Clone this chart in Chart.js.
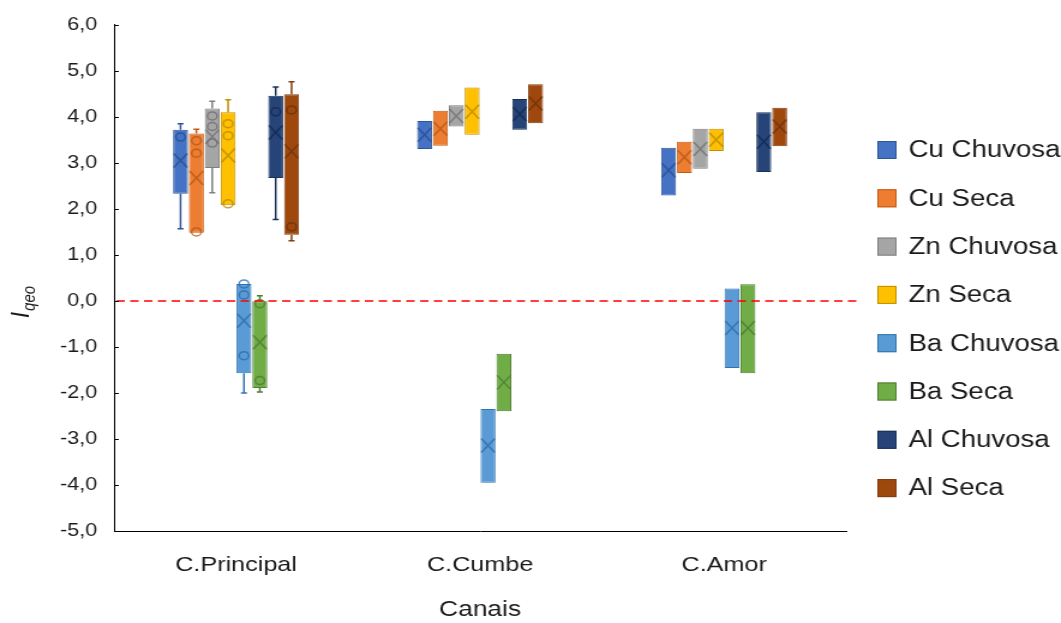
<!DOCTYPE html>
<html>
<head>
<meta charset="utf-8">
<script src="https://cdn.jsdelivr.net/npm/chart.js@4.4.1/dist/chart.umd.min.js"></script>
<style>
  html, body { margin: 0; padding: 0; background: #ffffff; overflow: hidden; }
  /* the figure is laid out narrow and widened horizontally */
  #wrap { width: 884px; height: 623px; transform: scaleX(1.2002); transform-origin: 0 0; }
</style>
</head>
<body>
<div id="wrap"><canvas id="chart" width="884" height="623"></canvas></div>
<script>
// Categories and series
const categories = ['C.Principal', 'C.Cumbe', 'C.Amor'];
const seriesNames = ['Cu Chuvosa', 'Cu Seca', 'Zn Chuvosa', 'Zn Seca',
                     'Ba Chuvosa', 'Ba Seca', 'Al Chuvosa', 'Al Seca'];

// Box limits (first and third quartile), one row per series, one column per canal
const boxLow = [
  [2.33, 3.30, 2.29],
  [1.48, 3.37, 2.78],
  [2.89, 3.79, 2.87],
  [2.08, 3.61, 3.26],
  [-1.57, -3.95, -1.46],
  [-1.89, -2.40, -1.57],
  [2.67, 3.72, 2.80],
  [1.44, 3.86, 3.36]
];
const boxHigh = [
  [3.72, 3.91, 3.33],
  [3.64, 4.13, 3.46],
  [4.18, 4.25, 3.74],
  [4.10, 4.64, 3.74],
  [0.37, -2.35, 0.27],
  [-0.01, -1.15, 0.36],
  [4.46, 4.39, 4.10],
  [4.49, 4.71, 4.20]
];

// Whisker ends (minimum and maximum)
const whiskerLow = [
  [1.57, 3.30, 2.29],
  [1.48, 3.37, 2.78],
  [2.35, 3.79, 2.87],
  [2.08, 3.61, 3.26],
  [-2.00, -3.95, -1.46],
  [-1.98, -2.40, -1.57],
  [1.77, 3.72, 2.80],
  [1.31, 3.86, 3.36]
];
const whiskerHigh = [
  [3.85, 3.91, 3.33],
  [3.73, 4.13, 3.46],
  [4.34, 4.25, 3.74],
  [4.37, 4.64, 3.74],
  [0.37, -2.35, 0.27],
  [0.11, -1.15, 0.36],
  [4.65, 4.39, 4.10],
  [4.76, 4.71, 4.20]
];

// Mean values (X markers)
const means = [
  [3.05, 3.61, 2.84],
  [2.67, 3.74, 3.12],
  [3.57, 4.02, 3.30],
  [3.16, 4.11, 3.50],
  [-0.43, -3.14, -0.59],
  [-0.90, -1.77, -0.59],
  [3.66, 4.06, 3.46],
  [3.25, 4.29, 3.79]
];

// Individual values shown as circles
const innerPoints = [
  [[3.56], [], []],
  [[3.48, 3.21, 1.50], [], []],
  [[4.02, 3.79, 3.43], [], []],
  [[3.85, 3.59, 2.11], [], []],
  [[0.37, 0.13, -1.19], [], []],
  [[-0.06, -1.73], [], []],
  [[4.11], [], []],
  [[4.15, 1.61], [], []]
];

// Y tick labels
const yTicks = ['-5,0', '-4,0', '-3,0', '-2,0', '-1,0', '0,0', '1,0', '2,0', '3,0', '4,0', '5,0', '6,0'];

const fills = ['#4472C4', '#ED7D31', '#A5A5A5', '#FFC000', '#5B9BD5', '#70AD47', '#264478', '#9E480E'];
const edges = ['#2F5597', '#C55A11', '#7F7F7F', '#BF9000', '#2E75B6', '#507E32', '#1A3157', '#843C0C'];
const marks = ['rgba(40,75,140,0.75)', 'rgba(180,85,20,0.75)', 'rgba(110,110,110,0.75)', 'rgba(180,135,0,0.75)',
               'rgba(40,105,170,0.75)', 'rgba(75,120,45,0.75)', 'rgba(20,40,80,0.8)', 'rgba(110,50,10,0.8)'];

const FONT = '"Liberation Sans", Arial, Helvetica, sans-serif';
const TEXT = '#1a1a1a';

// Whiskers behind the boxes; means and points on top
const boxMarks = {
  id: 'boxMarks',
  beforeDatasetsDraw(chart) {
    const { ctx, scales: { y } } = chart;
    ctx.save();
    chart.data.datasets.forEach((ds, i) => {
      chart.getDatasetMeta(i).data.forEach((bar, j) => {
        const x = bar.x;
        const yB = y.getPixelForValue(boxLow[i][j]);
        const yT = y.getPixelForValue(boxHigh[i][j]);
        const yLo = y.getPixelForValue(whiskerLow[i][j]);
        const yHi = y.getPixelForValue(whiskerHigh[i][j]);
        ctx.strokeStyle = edges[i];
        ctx.lineWidth = 1.5;
        ctx.beginPath();
        if (yLo > yB + 0.5) {
          ctx.moveTo(x, yB); ctx.lineTo(x, yLo);
          ctx.moveTo(x - 2.5, yLo); ctx.lineTo(x + 2.5, yLo);
        }
        if (yHi < yT - 0.5) {
          ctx.moveTo(x, yT); ctx.lineTo(x, yHi);
          ctx.moveTo(x - 2.5, yHi); ctx.lineTo(x + 2.5, yHi);
        }
        ctx.stroke();
      });
    });
    ctx.restore();
  },
  afterDatasetsDraw(chart) {
    const { ctx, scales: { y } } = chart;
    ctx.save();
    chart.data.datasets.forEach((ds, i) => {
      chart.getDatasetMeta(i).data.forEach((bar, j) => {
        const x = bar.x;
        const hw = bar.width / 2 - 0.5;
        ctx.strokeStyle = marks[i];
        ctx.lineWidth = 1.5;
        // mean marker
        const ym = y.getPixelForValue(means[i][j]);
        ctx.beginPath();
        ctx.moveTo(x - hw, ym - 7); ctx.lineTo(x + hw, ym + 7);
        ctx.moveTo(x - hw, ym + 7); ctx.lineTo(x + hw, ym - 7);
        ctx.stroke();
        // individual values
        innerPoints[i][j].forEach(v => {
          ctx.beginPath();
          ctx.arc(x, y.getPixelForValue(v), 4, 0, Math.PI * 2);
          ctx.stroke();
        });
      });
    });
    // reference line at zero
    const y0 = y.getPixelForValue(0);
    ctx.strokeStyle = '#FF0000';
    ctx.lineWidth = 1.5;
    ctx.setLineDash([7, 4.5]);
    ctx.beginPath();
    ctx.moveTo(chart.chartArea.left + 2, y0);
    ctx.lineTo(chart.chartArea.right + 10, y0);
    ctx.stroke();
    ctx.restore();
  }
};

// Inner tick marks, legend and the y axis title
const decorations = {
  id: 'decorations',
  afterDraw(chart) {
    const { ctx, chartArea, scales: { y } } = chart;
    ctx.save();
    ctx.strokeStyle = '#000000';
    ctx.lineWidth = 1;
    ctx.beginPath();
    y.ticks.forEach(t => {
      const py = Math.round(y.getPixelForValue(t.value)) + 0.5;
      ctx.moveTo(chartArea.left, py);
      ctx.lineTo(chartArea.left + 4, py);
    });
    ctx.stroke();

    // legend
    const lx = chartArea.right + 26;
    ctx.font = '23px ' + FONT;
    ctx.textBaseline = 'middle';
    ctx.textAlign = 'left';
    seriesNames.forEach((name, i) => {
      const cy = 150 + i * 48.3;
      ctx.fillStyle = fills[i];
      ctx.fillRect(lx, cy - 9, 16, 18);
      ctx.strokeStyle = edges[i];
      ctx.lineWidth = 1;
      ctx.strokeRect(lx + 0.5, cy - 8.5, 15, 17);
      ctx.fillStyle = TEXT;
      ctx.fillText(name, lx + 26, cy + 1);
    });

    // y axis title: I with subscript qeo
    ctx.translate(17, 302);
    ctx.rotate(-Math.PI / 2);
    ctx.fillStyle = TEXT;
    ctx.textBaseline = 'alphabetic';
    ctx.font = 'italic 22px ' + FONT;
    const wI = ctx.measureText('I').width;
    ctx.font = 'italic 15px ' + FONT;
    const wS = ctx.measureText('qeo').width;
    const start = -(wI + wS + 1) / 2;
    ctx.font = 'italic 22px ' + FONT;
    ctx.fillText('I', start, 7);
    ctx.font = 'italic 15px ' + FONT;
    ctx.fillText('qeo', start + wI + 1, 12);
    ctx.restore();
  }
};

new Chart(document.getElementById('chart'), {
  type: 'bar',
  data: {
    labels: categories,
    datasets: seriesNames.map((name, i) => ({
      label: name,
      data: categories.map((_, j) => [boxLow[i][j], boxHigh[i][j]]),
      backgroundColor: fills[i],
      borderColor: edges[i],
      borderWidth: 1,
      borderSkipped: false,
      categoryPercentage: 0.52,
      barPercentage: 0.94
    }))
  },
  options: {
    responsive: false,
    animation: false,
    devicePixelRatio: 1,
    layout: { padding: { top: 23, right: 179, bottom: 0, left: 0 } },
    plugins: { legend: { display: false }, tooltip: { enabled: false } },
    scales: {
      x: {
        grid: { display: false, drawTicks: false },
        border: { color: '#000000', width: 1 },
        ticks: { font: { family: FONT, size: 21 }, color: TEXT, padding: 22 },
        title: { display: true, text: 'Canais', font: { family: FONT, size: 22 }, color: TEXT, padding: { top: 0, bottom: 0 } },
        afterFit(scale) { scale.height = 92; }
      },
      y: {
        min: -5,
        max: 6,
        grid: { display: false, drawTicks: false },
        border: { color: '#000000', width: 1 },
        ticks: {
          stepSize: 1,
          font: { family: FONT, size: 18 },
          color: TEXT,
          padding: 14,
          callback: (v) => yTicks[Math.round(v) + 5]
        },
        afterFit(scale) { scale.width = 95; }
      }
    }
  },
  plugins: [boxMarks, decorations]
});
</script>
</body>
</html>
